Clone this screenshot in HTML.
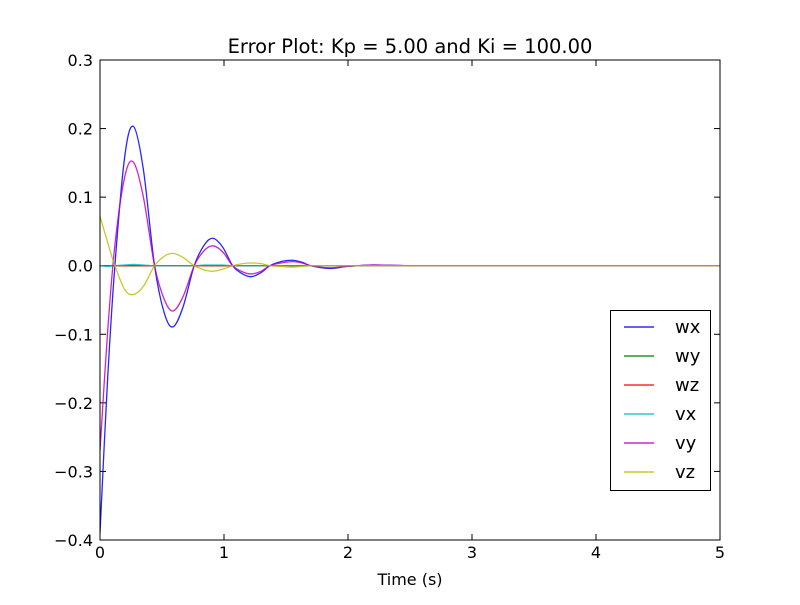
<!DOCTYPE html>
<html><head><meta charset="utf-8"><style>
body{margin:0;background:#fff}
svg text{font-family:"DejaVu Sans","Liberation Sans",sans-serif;fill:#000}
</style></head><body>
<svg id="chart" width="800" height="600">
<rect width="800" height="600" fill="#fff"/>
<text x="410" y="53" font-size="19.5" text-anchor="middle">Error Plot: Kp = 5.00 and Ki = 100.00</text>
<g id="grid"></g>
<g id="series" clip-path="url(#clip)"></g>
<defs><clipPath id="clip"><rect x="100" y="60" width="620" height="480"/></clipPath></defs>
<rect x="100" y="60" width="620" height="480" fill="none" stroke="#000" stroke-width="1"/>
<text x="410" y="585" font-size="16" text-anchor="middle">Time (s)</text>
<g id="legend"></g>
</svg>
<script>
const times=[0,0.06,0.12,0.2,0.27,0.35,0.44,0.52,0.59,0.67,0.76,0.84,0.91,0.99,1.07,1.15,1.22,1.3,1.37,1.46,1.55,1.63,1.7,1.85,2.0,2.2,2.5,3,4,5];
const wx=[-0.39,-0.17,0,0.16,0.203,0.14,0,-0.07,-0.089,-0.06,0,0.03,0.040,0.027,0,-0.012,-0.016,-0.01,0,0.006,0.008,0.005,0,-0.004,-0.001,0.001,0,0,0,0];
const wy=[0,0,0,0,0,0,0,0,0,0,0,0,0,0,0,0,0,0,0,0,0,0,0,0,0,0,0,0,0,0];
const wz=[0,0,0,0,0,0,0,0,0,0,0,0,0,0,0,0,0,0,0,0,0,0,0,0,0,0,0,0,0,0];
const vx=[0,-0.001,0,0.001,0.002,0.001,0,0,0,0,0,0.001,0.001,0.001,0,0,0,0,0,0,0,0,0,0,0,0,0,0,0,0];
const vy=[-0.27,-0.1,0.03,0.13,0.151,0.1,0,-0.05,-0.066,-0.045,0,0.022,0.029,0.02,0,-0.009,-0.012,-0.008,0,0.004,0.006,0.004,0,-0.003,-0.001,0.001,0,0,0,0];
const vz=[0.072,0.035,0,-0.035,-0.042,-0.03,0,0.014,0.018,0.012,0,-0.006,-0.008,-0.005,0,0.003,0.004,0.003,0,-0.001,-0.002,-0.001,0,0,0,0,0,0,0,0];
const seriesNames=["wx","wy","wz","vx","vy","vz"];
const seriesColors=["#0000ff","#007f00","#ff0000","#00bfbf","#bf00bf","#bfbf00"];
const xTicks=[0,1,2,3,4,5];
const yTicks=[-0.4,-0.3,-0.2,-0.1,0.0,0.1,0.2,0.3];
const NS="http://www.w3.org/2000/svg";
const X=t=>100+t/5*620;
const Y=v=>540-(v+0.4)/0.7*480;
function mk(tag,attrs,parent){const e=document.createElementNS(NS,tag);for(const k in attrs)e.setAttribute(k,attrs[k]);parent.appendChild(e);return e;}
const grid=document.getElementById('grid');
xTicks.forEach(t=>{
  const l=mk('line',{x1:X(t),x2:X(t),y1:540,y2:534,stroke:'#000'},grid);
  
  
  const l2=mk('line',{x1:X(t),x2:X(t),y1:60,y2:66,stroke:'#000'},grid);
  
  
  const tx=mk('text',{x:X(t),y:558,'font-size':16,'text-anchor':'middle'},grid);tx.textContent=t;
  
  
});
yTicks.forEach(v=>{
  const l=mk('line',{x1:100,x2:106,y1:Y(v),y2:Y(v),stroke:'#000'},grid);
  
  
  const l2=mk('line',{x1:714,x2:720,y1:Y(v),y2:Y(v),stroke:'#000'},grid);
  
  
  const tx=mk('text',{x:93,y:Y(v)+6,'font-size':16,'text-anchor':'end'},grid);tx.textContent=v.toFixed(1).replace('-','\u2212');
  
  
});
function pathFor(vals){
  const p=times.map((t,i)=>[X(t),Y(vals[i])]);
  let d=`M${p[0][0]},${p[0][1]}`;
  for(let i=0;i<p.length-1;i++){
    const p0=p[i-1]||p[i],p1=p[i],p2=p[i+1],p3=p[i+2]||p2;
    const c1=[p1[0]+(p2[0]-p0[0])/6,p1[1]+(p2[1]-p0[1])/6];
    const c2=[p2[0]-(p3[0]-p1[0])/6,p2[1]-(p3[1]-p1[1])/6];
    d+=` C${c1[0]},${c1[1]} ${c2[0]},${c2[1]} ${p2[0]},${p2[1]}`;
  }
  return d;
}
const data=[wx,wy,wz,vx,vy,vz];
const sg=document.getElementById('series');
[0,1,2,3,4,5].forEach(i=>{
  const p=mk('path',{d:pathFor(data[i]),fill:'none',stroke:seriesColors[i],'stroke-width':1.3,'stroke-opacity':0.85},sg);
  
  
});
const lg=document.getElementById('legend');
const box=mk('rect',{x:610.5,y:310.5,width:100,height:180,fill:'#fff',stroke:'#000'},lg);


seriesNames.forEach((n,i)=>{
  const y=327+i*29;
  const l=mk('line',{x1:624,x2:654,y1:y,y2:y,stroke:seriesColors[i],'stroke-width':1.3},lg);
  
  
  const t=mk('text',{x:675,y:y+6,'font-size':18},lg);t.textContent=n;
  
  
});
</script>
</body></html>
